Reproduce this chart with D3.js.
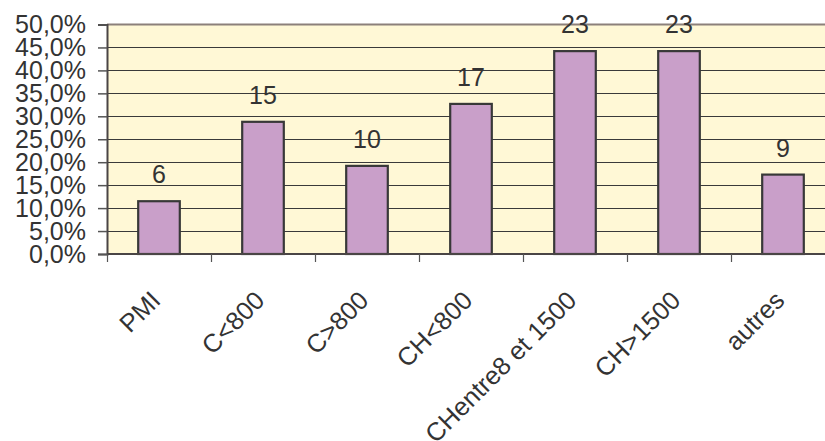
<!DOCTYPE html>
<html>
<head>
<meta charset="utf-8">
<script src="https://cdn.jsdelivr.net/npm/d3@7"></script>
<style>
  html, body { margin: 0; padding: 0; background: #ffffff; }
  svg { display: block; }
  text { font-family: "Liberation Sans", Arial, sans-serif; fill: #333333; }
</style>
</head>
<body>
<svg id="chart" width="825" height="441"></svg>
<script>
const categories = ["PMI", "C<800", "C>800", "CH<800", "CHentre8 et 1500", "CH>1500", "autres"];
const counts = [6, 15, 10, 17, 23, 23, 9];
const percents = [0.115, 0.288, 0.192, 0.327, 0.442, 0.442, 0.173];
const yTicks = [0, 0.05, 0.10, 0.15, 0.20, 0.25, 0.30, 0.35, 0.40, 0.45, 0.50];

(function () {
const svg = d3.select("#chart");
const pLeft = 107, pTop = 24.5, pBottom = 254, step = 104;
const pRight = pLeft + step * categories.length;

const x = d3.scaleBand().domain(categories).range([pLeft, pRight]).paddingInner(0.6).paddingOuter(0.3);
const y = d3.scaleLinear().domain([0, 0.5]).range([pBottom, pTop]);

// plot background
svg.append("rect").attr("x", pLeft).attr("y", pTop).attr("width", pRight - pLeft).attr("height", pBottom - pTop)
  .attr("fill", "#fff8d6");

// gridlines
svg.append("g").selectAll("line").data(yTicks.slice(1, -1)).join("line")
  .attr("x1", pLeft).attr("x2", pRight)
  .attr("y1", d => Math.round(y(d)) + 0.5).attr("y2", d => Math.round(y(d)) + 0.5)
  .attr("stroke", "#3a3a3a").attr("stroke-width", 1);

// top border
svg.append("line").attr("x1", pLeft).attr("x2", pRight).attr("y1", pTop).attr("y2", pTop)
  .attr("stroke", "#8c807b").attr("stroke-width", 2);

// bars
svg.append("g").selectAll("rect").data(categories).join("rect")
  .attr("x", d => x(d)).attr("width", x.bandwidth())
  .attr("y", (d, i) => y(percents[i])).attr("height", (d, i) => pBottom - y(percents[i]))
  .attr("fill", "#c99fc9").attr("stroke", "#383838").attr("stroke-width", 2.2);

// data labels
svg.append("g").selectAll("text").data(categories).join("text")
  .attr("x", d => x(d) + x.bandwidth() / 2)
  .attr("y", (d, i) => y(percents[i]) - 18)
  .attr("text-anchor", "middle").attr("font-size", 25)
  .text((d, i) => counts[i]);

// y axis
const yAxis = d3.axisLeft(y).tickValues(yTicks).tickSize(9).tickPadding(12)
  .tickFormat(d => d3.format(".1f")(d * 100).replace(".", ",") + "%");
const gy = svg.append("g").attr("transform", `translate(${pLeft},0)`).call(yAxis);
gy.select(".domain").attr("stroke", "#4a4545").attr("stroke-width", 2);
gy.selectAll(".tick line").attr("stroke", "#555").attr("stroke-width", 1.5);
gy.selectAll(".tick text").attr("font-size", 25).attr("fill", "#333").attr("font-family", "Liberation Sans, Arial, sans-serif");

// x axis line
svg.append("line").attr("x1", pLeft).attr("x2", pRight).attr("y1", pBottom).attr("y2", pBottom)
  .attr("stroke", "#4a4545").attr("stroke-width", 2);
// category boundary ticks
svg.append("g").selectAll("line").data(d3.range(categories.length + 1)).join("line")
  .attr("x1", i => pLeft + i * x.step() + 0.5).attr("x2", i => pLeft + i * x.step() + 0.5)
  .attr("y1", pBottom).attr("y2", pBottom + 8)
  .attr("stroke", "#555").attr("stroke-width", 1.2);

// category labels
svg.append("g").selectAll("text").data(categories).join("text")
  .attr("transform", d => `translate(${x(d) + x.bandwidth() / 2 + 3},${302}) rotate(-45)`)
  .attr("text-anchor", "end").attr("font-size", 25.5)
  .text(d => d);
})();
</script>
</body>
</html>
